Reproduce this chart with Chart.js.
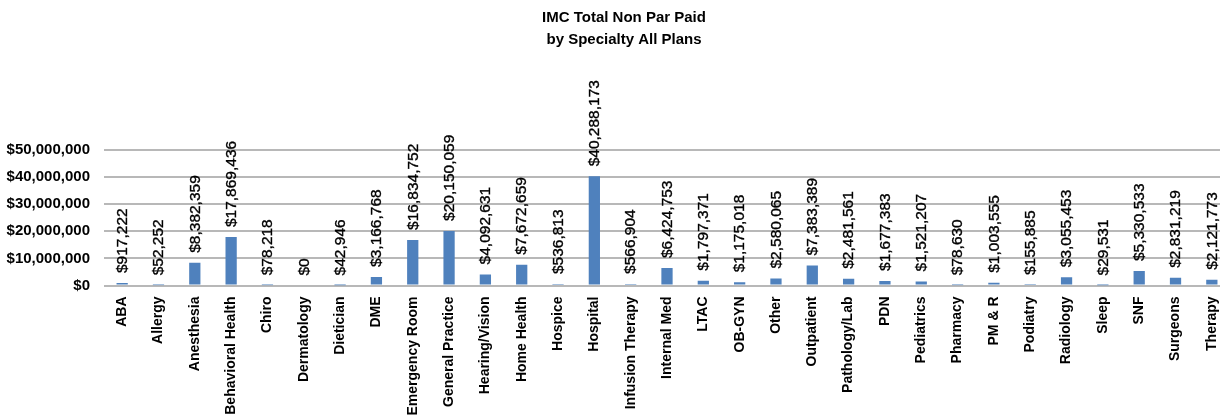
<!DOCTYPE html>
<html>
<head>
<meta charset="utf-8">
<script src="https://cdn.jsdelivr.net/npm/chart.js@4/dist/chart.umd.min.js"></script>
<style>
html,body{margin:0;padding:0;overflow:hidden;background:#fff;width:1220px;height:419px;}
canvas{display:block;}
</style>
</head>
<body>
<canvas id="c" width="1248" height="419" style="width:1248px;height:419px"></canvas>
<script>
const titleLines = ["IMC Total Non Par Paid", "by Specialty All Plans"];
const categories = ["ABA","Allergy","Anesthesia","Behavioral Health","Chiro","Dermatology","Dietician","DME","Emergency Room","General Practice","Hearing/Vision","Home Health","Hospice","Hospital","Infusion Therapy","Internal Med","LTAC","OB-GYN","Other","Outpatient","Pathology/Lab","PDN","Pediatrics","Pharmacy","PM & R","Podiatry","Radiology","Sleep","SNF","Surgeons","Therapy"];
const paidValues = [917222,52252,8382359,17869436,78218,0,42946,3166768,16834752,20150059,4092631,7672659,536813,40288173,566904,6424753,1797371,1175018,2580065,7383389,2481561,1677383,1521207,78630,1003555,155885,3055453,29531,5330533,2831219,2121773];
const yTicks = [0,10000000,20000000,30000000,40000000,50000000];

const FONT = "'Liberation Sans', Arial, sans-serif";
const fmt = v => "$" + Math.round(v).toLocaleString("en-US");

const labelPlugin = {
  id: "barLabels",
  afterDatasetsDraw(chart) {
    const ctx = chart.ctx;
    const meta = chart.getDatasetMeta(0);
    ctx.save();
    ctx.font = "15.5px " + FONT;
    ctx.fillStyle = "#000";
    ctx.strokeStyle = "#000";
    ctx.lineWidth = 0.35;
    ctx.textAlign = "left";
    ctx.textBaseline = "middle";
    meta.data.forEach((el, i) => {
      ctx.save();
      ctx.translate(el.x + 0.5, el.y - 10);
      ctx.rotate(-Math.PI / 2);
      ctx.fillText(fmt(paidValues[i]), 0, 0);
      ctx.strokeText(fmt(paidValues[i]), 0, 0);
      ctx.restore();
    });
    ctx.restore();
  }
};

const titlePlugin = {
  id: "customTitle",
  afterDraw(chart) {
    const ctx = chart.ctx;
    ctx.save();
    ctx.font = "bold 15px " + FONT;
    ctx.fillStyle = "#000";
    ctx.textAlign = "center";
    ctx.textBaseline = "middle";
    const cx = chart.width / 2;
    ctx.fillText(titleLines[0], cx, 18);
    ctx.fillText(titleLines[1], cx, 40);
    ctx.restore();
  }
};

new Chart(document.getElementById("c"), {
  type: "bar",
  data: {
    labels: categories,
    datasets: [{
      data: paidValues,
      backgroundColor: "#4F81BD",
      borderWidth: 0,
      barPercentage: 0.31,
      categoryPercentage: 1
    }]
  },
  options: {
    responsive: false,
    animation: false,
    devicePixelRatio: 1,
    layout: { padding: { left: 0, right: 18, top: 150, bottom: 0 } },
    plugins: {
      legend: { display: false },
      tooltip: { enabled: false },
      title: { display: false }
    },
    scales: {
      x: {
        grid: { display: false, drawTicks: false },
        border: { display: false },
        ticks: {
          autoSkip: false,
          maxRotation: 90,
          minRotation: 90,
          padding: 11,
          color: "#000",
          font: { family: FONT, size: 14, weight: "bold" }
        },
        afterFit(scale) { scale.height = 133.5; }
      },
      y: {
        min: 0,
        max: 50000000,
        afterBuildTicks(scale) { scale.ticks = yTicks.map(v => ({ value: v })); },
        grid: { color: "#b8b8b8", lineWidth: 2, drawTicks: false },
        border: { display: false },
        ticks: {
          padding: 14,
          color: "#000",
          font: { family: FONT, size: 15, weight: "bold" },
          callback: v => fmt(v)
        },
        afterFit(scale) { scale.width = 104; }
      }
    }
  },
  plugins: [labelPlugin, titlePlugin]
});
</script>
</body>
</html>
